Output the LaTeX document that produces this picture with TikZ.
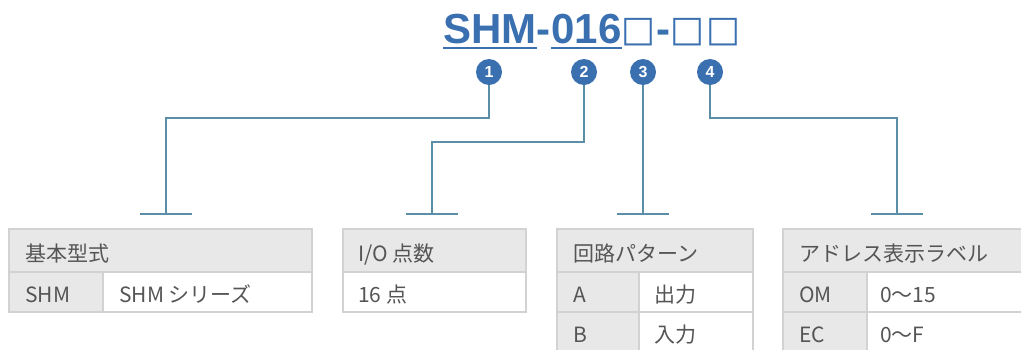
\documentclass[tikz,border=0pt]{standalone}
\usepackage{fontspec}
\setmainfont{Noto Sans CJK JP}
\newfontfamily\titlefont{Liberation Sans}
\newfontfamily\boxfont{DejaVu Sans}
\usetikzlibrary{positioning}
\definecolor{refblue}{HTML}{3A6FB0}
\definecolor{leadblue}{HTML}{5B8FA8}
\definecolor{cellgray}{HTML}{E8E8E8}
\definecolor{rulegray}{HTML}{D2D2D2}
\definecolor{inkgray}{HTML}{555555}
\tikzset{
  title/.style={inner sep=0pt, anchor=base west, text=refblue, font=\titlefont\bfseries\fontsize{42}{42}\selectfont},
  titlebox/.style={inner sep=0pt, anchor=base west, text=refblue, font=\boxfont\fontsize{36}{36}\selectfont},
  badge/.style={circle, fill=refblue, minimum size=26pt, inner sep=0pt, text=white, font=\titlefont\bfseries\fontsize{16}{16}\selectfont},
  lead/.style={leadblue, line width=1.6pt},
  headcell/.style={draw=rulegray, line width=1.6pt, fill=cellgray},
  keycell/.style={draw=rulegray, line width=1.6pt, fill=cellgray},
  valcell/.style={draw=rulegray, line width=1.6pt, fill=white},
  celltext/.style={anchor=base west, inner sep=0pt, text=inkgray, font=\fontsize{21}{21}\selectfont},
}
\begin{document}
\begin{tikzpicture}[x=1pt,y=-1pt]
\useasboundingbox (0,0) rectangle (1021,349);
%model code
\node[title] (tshm) at (443,43) {SHM};
\node[title] (tdasha) at (tshm.base east) {-};
\node[title] (tnum) at (tdasha.base east) {016};
\node[titlebox] (tboxa) at ([yshift=2pt]tnum.base east) {□};
\node[title] (tdashb) at ([yshift=-2pt]tboxa.base east) {-};
\node[titlebox] (tboxb) at ([yshift=2pt]tdashb.base east) {□};
\node[titlebox] (tboxc) at ([xshift=1pt]tboxb.base east) {□};
\draw[refblue, line width=2pt] ([yshift=-5pt]tshm.base west) -- ([yshift=-5pt]tshm.base east);
\draw[refblue, line width=2pt] ([yshift=-5pt]tnum.base west) -- ([yshift=-5pt]tnum.base east);
%badges
\node[badge] (b1) at (489,72) {1};
\node[badge] (b2) at (584,72) {2};
\node[badge] (b3) at (643,72) {3};
\node[badge] (b4) at (710,72) {4};
%leader lines
\coordinate (bend1) at (166,118);
\coordinate (bend2) at (432,142);
\coordinate (bend4) at (897,118);
\coordinate (t1) at (166,214);
\coordinate (t2) at (432,214);
\coordinate (t3) at (643,214);
\coordinate (t4) at (897,214);
\draw[lead] (b1.south) |- (bend1) -- (t1);
\draw[lead] (b2.south) |- (bend2) -- (t2);
\draw[lead] (b3.south) -- (t3);
\draw[lead] (b4.south) |- (bend4) -- (t4);
\draw[lead] ([xshift=-26pt]t1) -- ([xshift=26pt]t1);
\draw[lead] ([xshift=-26pt]t2) -- ([xshift=26pt]t2);
\draw[lead] ([xshift=-26pt]t3) -- ([xshift=26pt]t3);
\draw[lead] ([xshift=-26pt]t4) -- ([xshift=26pt]t4);
%table 1
\draw[headcell] (9,229) rectangle (312,272);
\draw[keycell] (9,272) rectangle (103,312);
\draw[valcell] (103,272) rectangle (312,312);
\node[celltext] (h1) at (25,261) {基本型式};
\node[celltext] (k1a) at (25,302) {SHM};
\node[celltext] (v1a) at (119,302) {SHM シリーズ};
%table 2
\draw[headcell] (343,229) rectangle (526,272);
\draw[valcell] (343,272) rectangle (526,312);
\node[celltext] (h2) at (358,261) {I/O 点数};
\node[celltext] (v2a) at (358,302) {16 点};
%table 3
\draw[headcell] (557,229) rectangle (753,272);
\draw[keycell] (557,272) rectangle (639,312);
\draw[valcell] (639,272) rectangle (753,312);
\draw[keycell] (557,312) rectangle (639,352);
\draw[valcell] (639,312) rectangle (753,352);
\node[celltext] (h3) at (573,261) {回路パターン};
\node[celltext] (k3a) at (573,302) {A};
\node[celltext] (v3a) at (654,302) {出力};
\node[celltext] (k3b) at (573,342) {B};
\node[celltext] (v3b) at (654,342) {入力};
%table 4
\draw[headcell] (783,229) rectangle (1030,272);
\draw[keycell] (783,272) rectangle (867,312);
\draw[valcell] (867,272) rectangle (1030,312);
\draw[keycell] (783,312) rectangle (867,352);
\draw[valcell] (867,312) rectangle (1030,352);
\node[celltext] (h4) at (799,261) {アドレス表示ラベル};
\node[celltext] (k4a) at (799,302) {OM};
\node[celltext] (v4a) at (880,302) {0〜15};
\node[celltext] (k4b) at (799,342) {EC};
\node[celltext] (v4b) at (880,342) {0〜F};
\end{tikzpicture}
\end{document}
